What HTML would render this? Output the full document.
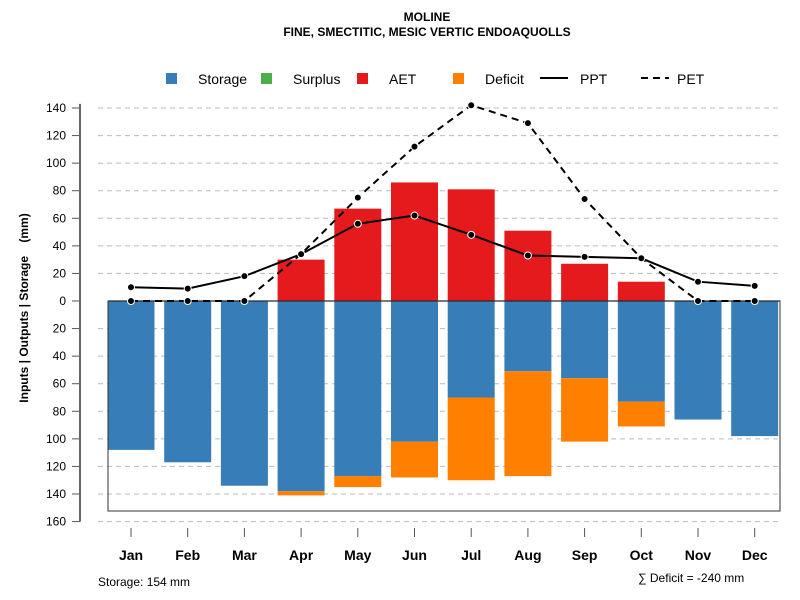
<!DOCTYPE html>
<html><head><meta charset="utf-8"><style>
body{margin:0;background:#fff;font-family:"Liberation Sans",sans-serif}
svg{display:block}
</style></head><body>
<svg id="c" width="800" height="600" xmlns="http://www.w3.org/2000/svg" font-family="Liberation Sans, sans-serif">
<text x="427" y="21" text-anchor="middle" font-size="12" font-weight="bold">MOLINE</text>
<text x="427" y="36" text-anchor="middle" font-size="12" font-weight="bold">FINE, SMECTITIC, MESIC VERTIC ENDOAQUOLLS</text>
<g id="legend" font-size="14">
<g><rect x="166" y="73" width="11" height="11" fill="#377eb8"/><text x="198" y="84">Storage</text></g>
<g><rect x="261" y="73" width="11" height="11" fill="#4daf4a"/><text x="293" y="84">Surplus</text></g>
<g><rect x="357" y="73" width="11" height="11" fill="#e41a1c"/><text x="389" y="84">AET</text></g>
<g><rect x="453" y="73" width="11" height="11" fill="#ff7f00"/><text x="485" y="84">Deficit</text></g>
<g><line x1="540" y1="78" x2="568" y2="78" stroke="#000" stroke-width="2"/><text x="580" y="84">PPT</text></g>
<g><line x1="641" y1="78" x2="669" y2="78" stroke="#000" stroke-width="2" stroke-dasharray="7,5"/><text x="677" y="84">PET</text></g>
</g>
<g id="grid"></g><g id="bars"></g><g id="axes"></g><g id="lines"></g>
<text transform="translate(28,308) rotate(-90)" text-anchor="middle" font-size="12" font-weight="bold">Inputs | Outputs | Storage&#160;&#160;&#160;&#160;(mm)</text>
<text x="98" y="586" font-size="12">Storage: 154 mm</text>
<text x="638" y="582" font-size="12">∑ Deficit = -240 mm</text>
</svg>
<script>
const months=["Jan","Feb","Mar","Apr","May","Jun","Jul","Aug","Sep","Oct","Nov","Dec"];
const storage=[108,117,134,138,127,102,70,51,56,73,86,98];
const deficit=[0,0,0,3,8,26,60,76,46,18,0,0];
const aet=[0,0,0,30,67,86,81,51,27,14,0,0];
const ppt=[10,9,18,34,56,62,48,33,32,31,14,11];
const pet=[0,0,0,34,75,112,142,129,74,31,0,0];
const yTicks=[140,120,100,80,60,40,20,0,20,40,60,80,100,120,140,160];
const yTickVals=[140,120,100,80,60,40,20,0,-20,-40,-60,-80,-100,-120,-140,-160];
const NS="http://www.w3.org/2000/svg";
const y0=301,k=193/140;
const y=v=>y0-v*k;
const x=i=>131+i*56.7;
function mk(t,a,p){const e=document.createElementNS(NS,t);for(const n in a)e.setAttribute(n,a[n]);document.getElementById(p).appendChild(e);return e;}
yTickVals.forEach((v,i)=>{
 if(v!==0){const g=mk('line',{x1:98,x2:780,y1:y(v),y2:y(v),stroke:'#bbb','stroke-dasharray':'5,4'},'grid');
 
 }
 const t=mk('line',{x1:72,x2:80,y1:y(v),y2:y(v),stroke:'#555'},'axes');
 
 
 const l=mk('text',{x:66,y:y(v)+4,'text-anchor':'end','font-size':12},'axes');l.textContent=yTicks[i];
 
 
});
const ax=mk('line',{x1:80,x2:80,y1:y(143),y2:y(-160),stroke:'#666','stroke-width':2},'axes');


const box=mk('rect',{x:108,y:y0,width:672,height:210,fill:'none',stroke:'#333'},'axes');


const bw=47;
months.forEach((m,i)=>{
 const cx=x(i);
 const s=mk('rect',{x:cx-bw/2,y:y0,width:bw,height:storage[i]*k,fill:'#377eb8'},'bars');
 
 
 if(deficit[i]>0){const d=mk('rect',{x:cx-bw/2,y:y(-storage[i]),width:bw,height:deficit[i]*k,fill:'#ff7f00'},'bars');
 
 }
 if(aet[i]>0){const a=mk('rect',{x:cx-bw/2,y:y(aet[i]),width:bw,height:aet[i]*k,fill:'#e41a1c'},'bars');
 
 }
 const t=mk('line',{x1:cx,x2:cx,y1:528,y2:537,stroke:'#555'},'axes');
 
 
 const l=mk('text',{x:cx,y:560,'text-anchor':'middle','font-size':14,'font-weight':'bold'},'axes');l.textContent=m;
 
 
});
const z=mk('line',{x1:108,x2:780,y1:y0,y2:y0,stroke:'#000','stroke-width':1.2},'bars');


function series(vals,name,dash){
 const p=mk('polyline',{points:vals.map((v,i)=>x(i)+','+y(v)).join(' '),fill:'none',stroke:'#000','stroke-width':2,'stroke-dasharray':dash},'lines');
 
 
 vals.forEach((v,i)=>{const c=mk('circle',{cx:x(i),cy:y(v),r:3.5,fill:'#000',stroke:'#fff','stroke-width':1},'lines');
 
 });
}
series(pet,'pet','7,5');
series(ppt,'ppt','none');
</script>
</body></html>
